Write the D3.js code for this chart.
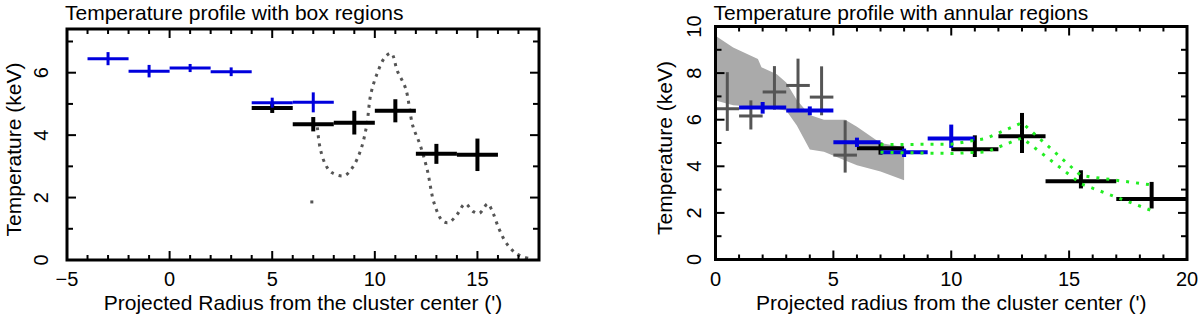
<!DOCTYPE html>
<html>
<head>
<meta charset="utf-8">
<script src="https://cdn.jsdelivr.net/npm/d3@7"></script>
<style>
  body { margin: 0; background: #fff; }
  svg { font-family: "Liberation Sans", Arial, Helvetica, sans-serif; }
</style>
</head>
<body>
<div id="chart"></div>
<script>
// ---- left panel: box regions ----
const boxBlueX = [-3, -1, 1, 3, 5, 7];
const boxBlueLo = [-4, -2, 0, 2, 4, 6];
const boxBlueHi = [-2, 0, 2, 4, 6, 8];
const boxBlueT = [6.45, 6.05, 6.15, 6.03, 5.04, 5.05];
const boxBlueErr = [0.21, 0.2, 0.13, 0.14, 0.16, 0.32];

const boxBlackX = [5, 7, 9, 11, 13, 15];
const boxBlackLo = [4, 6, 8, 10, 12, 14];
const boxBlackHi = [6, 8, 10, 12, 14, 16];
const boxBlackT = [4.87, 4.35, 4.4, 4.78, 3.4, 3.37];
const boxBlackErr = [0.16, 0.23, 0.38, 0.37, 0.32, 0.52];

// dotted profile
const profX = [7.2, 7.33, 7.6, 7.9, 8.5, 8.9, 9.3, 9.6, 9.8, 10.1, 10.5, 10.8, 11.1, 11.5, 11.85, 12.2, 12.55, 12.9, 13.3, 13.6, 14.0, 14.4, 14.8, 15.1, 15.5, 15.7, 16.05, 16.4, 16.9, 17.5];
const profT = [4.25, 3.6, 3.05, 2.8, 2.7, 2.95, 3.5, 4.3, 5.3, 5.95, 6.5, 6.62, 6.05, 5.5, 4.3, 3.7, 2.9, 1.8, 1.25, 1.2, 1.45, 1.8, 1.55, 1.5, 1.8, 1.6, 1.0, 0.55, 0.2, 0.05];
const profDotX = [6.93];
const profDotT = [1.86];

// ---- right panel: annular regions ----
const bandX = [0, 0.75, 1.8, 1.95, 2.6, 3.0, 3.45, 4.0, 4.6, 5.5, 6.0, 7.0, 8.0];
const bandLo = [6.82, 6.62, 6.55, 6.54, 6.45, 6.4, 5.75, 4.72, 4.62, 4.25, 4.05, 3.78, 3.4];
const bandHi = [9.6, 9.1, 8.6, 8.25, 7.95, 7.6, 6.85, 6.2, 6.0, 6.0, 5.7, 5.0, 4.82];

const annGrayX = [0.5, 1.5, 2.5, 3.5, 4.5, 5.5];
const annGrayLo = [0, 1, 2, 3, 4, 5];
const annGrayHi = [1, 2, 3, 4, 5, 6];
const annGrayT = [6.47, 6.16, 7.19, 7.47, 6.97, 4.48];
const annGrayTLo = [5.52, 5.58, 6.43, 6.43, 6.19, 3.73];
const annGrayTHi = [8.04, 6.83, 8.3, 8.62, 8.29, 5.97];

const annBlueX = [2, 4, 6, 8, 10];
const annBlueLo = [1, 3, 5, 7, 9];
const annBlueHi = [3, 5, 7, 9, 11];
const annBlueT = [6.52, 6.4, 5.03, 4.6, 5.19];
const annBlueTLo = [6.26, 6.19, 4.83, 4.4, 4.79];
const annBlueTHi = [6.76, 6.57, 5.23, 4.76, 5.79];

const annBlackX = [7, 11, 13, 15.5, 18.5];
const annBlackLo = [6, 10, 12, 14, 17];
const annBlackHi = [8, 12, 14, 17, 20];
const annBlackT = [4.78, 4.73, 5.29, 3.36, 2.6];
const annBlackTLo = [4.5, 4.4, 4.57, 3.05, 2.19];
const annBlackTHi = [5.02, 5.33, 6.29, 3.83, 3.33];

const modelX = [7, 10, 11.5, 13, 15.5, 18.5];
const modelHi = [4.93, 4.95, 5.2, 5.87, 3.6, 3.2];
const modelLo = [4.6, 4.55, 4.62, 5.22, 3.25, 2.1];

const width = 1200;
const height = 315;
const labelSize = 21;
const tickSize = 20;

const svg = d3.select("#chart").append("svg")
  .attr("width", width)
  .attr("height", height);

function makeCrosses(xs, lo, hi, t, tlo, thi) {
  return xs.map((x, i) => ({x: x, x0: lo[i], x1: hi[i], t: t[i], t0: tlo[i], t1: thi[i]}));
}

function drawFrame(p) {
  const g = p.g;
  const [x0, x1] = p.x.range();
  const [yb, yt] = p.y.range();

  // tick marks, inward on all four sides
  const xMajor = d3.range(p.xDomain[0], p.xDomain[1] + 0.01, 5);
  const xMinor = d3.range(p.xDomain[0], p.xDomain[1] + 0.01, 1).filter(v => v % 5 !== 0);
  const yMajor = d3.range(0, p.yDomain[1] + 0.01, 2);
  const yMinor = d3.range(1, p.yDomain[1] + 0.01, 2);

  const tg = g.append("g").attr("stroke", "#000").attr("stroke-width", 2);
  const xTick = (v, len) => {
    tg.append("line").attr("x1", p.x(v)).attr("x2", p.x(v)).attr("y1", yb).attr("y2", yb - len);
    tg.append("line").attr("x1", p.x(v)).attr("x2", p.x(v)).attr("y1", yt).attr("y2", yt + len);
  };
  const yTick = (v, len) => {
    tg.append("line").attr("y1", p.y(v)).attr("y2", p.y(v)).attr("x1", x0).attr("x2", x0 + len);
    tg.append("line").attr("y1", p.y(v)).attr("y2", p.y(v)).attr("x1", x1).attr("x2", x1 - len);
  };
  xMajor.forEach(v => xTick(v, 9));
  xMinor.forEach(v => xTick(v, 5));
  yMajor.forEach(v => yTick(v, 9));
  yMinor.forEach(v => yTick(v, 6));

  g.append("rect")
    .attr("x", x0).attr("y", yt)
    .attr("width", x1 - x0).attr("height", yb - yt)
    .attr("fill", "none").attr("stroke", "#000").attr("stroke-width", 3);

  // tick labels
  g.selectAll(".xl").data(xMajor).enter().append("text")
    .attr("x", d => p.x(d)).attr("y", 286)
    .attr("text-anchor", "middle").attr("font-size", tickSize)
    .text(d => d < 0 ? "\u2212" + (-d) : d);

  g.selectAll(".yl").data(yMajor).enter().append("text")
    .attr("transform", d => `translate(${p.yLabelX}, ${p.y(d)}) rotate(-90)`)
    .attr("text-anchor", "middle").attr("dominant-baseline", "central")
    .attr("font-size", tickSize)
    .text(d => d);

  g.append("text")
    .attr("x", (x0 + x1) / 2).attr("y", 310)
    .attr("text-anchor", "middle").attr("font-size", labelSize)
    .text(p.xTitle);

  g.append("text")
    .attr("transform", `translate(${p.yTitleX}, ${(yb + yt) / 2 + 5}) rotate(-90)`)
    .attr("text-anchor", "middle").attr("dominant-baseline", "central")
    .attr("font-size", labelSize)
    .text("Temperature (keV)");

  g.append("text")
    .attr("x", x0 - 2).attr("y", 20)
    .attr("font-size", labelSize)
    .text(p.title);
}

function drawCrosses(p, data, colour, w) {
  const cg = p.g.append("g").attr("stroke", colour).attr("stroke-width", w);
  data.forEach(d => {
    cg.append("line").attr("x1", p.x(d.x0)).attr("x2", p.x(d.x1))
      .attr("y1", p.y(d.t)).attr("y2", p.y(d.t));
    cg.append("line").attr("x1", p.x(d.x)).attr("x2", p.x(d.x))
      .attr("y1", p.y(d.t0)).attr("y2", p.y(d.t1));
  });
}

// ---- left panel ----
const left = {
  g: svg.append("g"),
  xDomain: [-5, 18], yDomain: [0, 7.4],
  yLabelX: 41, yTitleX: 13,
  title: "Temperature profile with box regions",
  xTitle: "Projected Radius from the cluster center (')"
};
left.x = d3.scaleLinear().domain(left.xDomain).range([67, 539]);
left.y = d3.scaleLinear().domain(left.yDomain).range([260, 29]);

const profLine = d3.line().x(d => left.x(d[0])).y(d => left.y(d[1])).curve(d3.curveCatmullRom);
left.g.append("path")
  .datum(profX.map((x, i) => [x, profT[i]]))
  .attr("d", profLine)
  .attr("fill", "none").attr("stroke", "#555").attr("stroke-width", 3)
  .attr("stroke-dasharray", "3,5");
left.g.selectAll(".pdot").data(profDotX).enter().append("rect")
  .attr("x", (d) => left.x(d) - 1.5).attr("y", (d, i) => left.y(profDotT[i]) - 1.5)
  .attr("width", 3).attr("height", 3).attr("fill", "#555");

drawCrosses(left, makeCrosses(boxBlackX, boxBlackLo, boxBlackHi, boxBlackT,
  boxBlackT.map((t, i) => t - boxBlackErr[i]), boxBlackT.map((t, i) => t + boxBlackErr[i])), "#000", 4);
drawCrosses(left, makeCrosses(boxBlueX, boxBlueLo, boxBlueHi, boxBlueT,
  boxBlueT.map((t, i) => t - boxBlueErr[i]), boxBlueT.map((t, i) => t + boxBlueErr[i])), "#0000dd", 3);
drawFrame(left);

// ---- right panel ----
const right = {
  g: svg.append("g"),
  xDomain: [0, 20], yDomain: [0, 10],
  yLabelX: 694, yTitleX: 664,
  title: "Temperature profile with annular regions",
  xTitle: "Projected radius from the cluster center (')"
};
right.x = d3.scaleLinear().domain(right.xDomain).range([715.5, 1187]);
right.y = d3.scaleLinear().domain(right.yDomain).range([259.5, 26.5]);

const band = d3.area()
  .x((d, i) => right.x(bandX[i]))
  .y0((d, i) => right.y(bandLo[i]))
  .y1((d, i) => right.y(bandHi[i]));
right.g.append("path").datum(bandX).attr("d", band).attr("fill", "#aaaaaa");

drawCrosses(right, makeCrosses(annGrayX, annGrayLo, annGrayHi, annGrayT, annGrayTLo, annGrayTHi), "#555", 3);
drawCrosses(right, makeCrosses(annBlackX, annBlackLo, annBlackHi, annBlackT, annBlackTLo, annBlackTHi), "#000", 4);
drawCrosses(right, makeCrosses(annBlueX, annBlueLo, annBlueHi, annBlueT, annBlueTLo, annBlueTHi), "#0000dd", 4);

const modelLine = d3.line().x(d => right.x(d[0])).y(d => right.y(d[1]));
[modelHi, modelLo].forEach(series => {
  right.g.append("path")
    .datum(modelX.map((x, i) => [x, series[i]]))
    .attr("d", modelLine)
    .attr("fill", "none").attr("stroke", "#22ee22").attr("stroke-width", 3)
    .attr("stroke-dasharray", "3,7");
});
drawFrame(right);
</script>
</body>
</html>
